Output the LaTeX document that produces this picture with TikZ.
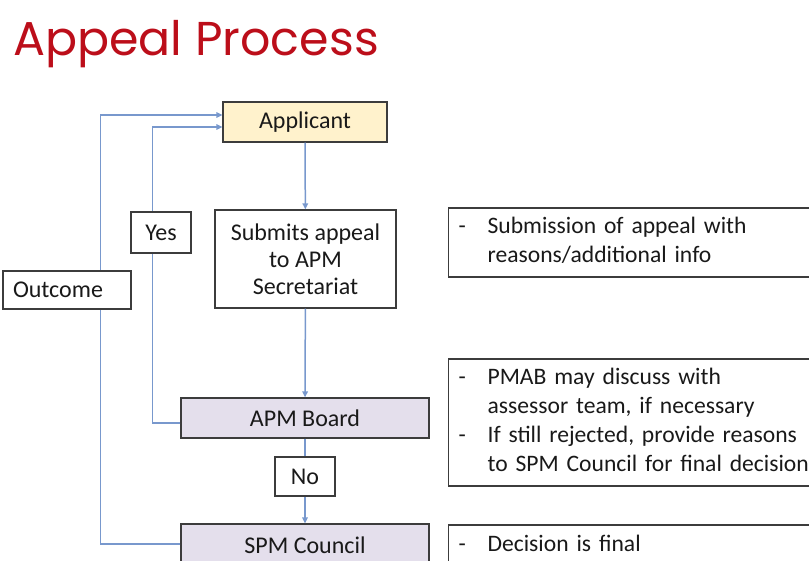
\documentclass[tikz,border=0pt]{standalone}
\usepackage{fontspec}
\setmainfont{Carlito}
\newfontfamily\titlefont{Poppins}
\usetikzlibrary{arrows.meta}
\definecolor{titlered}{RGB}{188,14,26}
\definecolor{linkblue}{RGB}{120,152,205}
\definecolor{applfill}{RGB}{255,242,204}
\definecolor{boardfill}{RGB}{228,223,236}
\definecolor{edgegray}{RGB}{60,60,60}
\begin{document}
\begin{tikzpicture}[x=1pt,y=-1pt,
  box/.style={draw=edgegray, line width=1.2pt, font=\fontsize{24}{27}\selectfont, inner sep=0pt, align=center, text=black!90},
  link/.style={draw=linkblue, line width=1.5pt},
  arr/.style={link, -{Triangle[length=6pt,width=5.5pt]}},
  tag/.style={box, fill=white},
  note/.style={draw=edgegray, line width=1.2pt, font=\fontsize{23.6}{29}\selectfont, inner xsep=10pt, inner ysep=0pt, anchor=west, text width=400pt, align=left, text=black!90}
]
\useasboundingbox (0,0) rectangle (809,560);
\clip (0,0) rectangle (809,560);
% title
\node[anchor=base west, text=titlered, inner sep=0pt, font=\titlefont\fontsize{47.5}{52}\selectfont] (title) at (13,55) {Appeal Process};
% main boxes
\node[box, fill=applfill, minimum width=164pt, minimum height=40pt] (app) at (305,122) {Applicant};
\node[box, minimum width=181pt, minimum height=98pt] (sub) at (305.5,259) {Submits appeal\\to APM\\Secretariat};
\node[box, fill=boardfill, minimum width=248pt, minimum height=40pt] (apm) at (305,418) {APM Board};
\node[box, fill=boardfill, minimum width=248pt, minimum height=42pt] (spm) at (305,545) {SPM Council};
% notes
\node[note, minimum height=69pt] (n1) at (448,242.5) {\begin{tabular}{@{}p{29pt}@{}l@{}}-&Submission of appeal with\\&reasons/additional info\end{tabular}};
\node[note, minimum height=127pt] (n2) at (448,422.5) {\begin{tabular}{@{}p{29pt}@{}l@{}}-&PMAB may discuss with\\&assessor team, if necessary\\-&If still rejected, provide reasons\\&to SPM Council for final decision\end{tabular}};
\node[note, minimum height=42pt] (n3) at (448,546) {\begin{tabular}{@{}p{29pt}@{}l@{}}-&Decision is final\end{tabular}};
% connectors
\draw[arr] (app) -- (sub);
\draw[arr] (sub) -- (apm);
\draw[arr] (apm) -- (spm);
\draw[arr] ([yshift=-5pt]apm.west) -- ++(-28,0) |- ([yshift=-5pt]app.west);
\draw[arr] ([yshift=1pt]spm.west) -- ++(-80,0) |- ([yshift=7pt]app.west);
% labels on connectors
\node[tag, minimum width=60pt, minimum height=41pt] (yes) at (161,232.5) {Yes};
\node[tag, minimum width=60pt, minimum height=39pt] (no) at (305,476.5) {No};
\node[tag, text width=108pt, align=left, inner xsep=10pt, minimum height=38pt] (out) at (67,290) {Outcome};
\end{tikzpicture}
\end{document}
